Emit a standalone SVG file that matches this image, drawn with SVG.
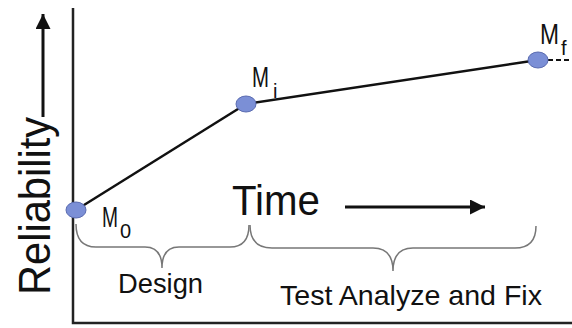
<svg xmlns="http://www.w3.org/2000/svg" width="572" height="328" viewBox="0 0 572 328">
<style>
.ax{stroke:#222;stroke-width:2.5;fill:none}
.ln{stroke:#111;stroke-width:2.5;fill:none}
.br{stroke:#777;stroke-width:1.5;fill:none}
.pt{fill:#7B8FD6;stroke:#5a6bb0;stroke-width:1}
.t{font-family:"Liberation Sans",Arial,sans-serif;fill:#111}
.sub{font-size:20px}
</style>
<defs>
<marker id="ah" viewBox="0 0 10 10" refX="10" refY="5" markerWidth="5" markerHeight="5" orient="auto" markerUnits="strokeWidth">
<path d="M0,0 L10,5 L0,10 Z" fill="#111"/>
</marker>
</defs>
<rect width="572" height="328" fill="#fff"/>
<g id="axes">
<path class="ax" d="M73,8 V323 H572"/>
<line x1="43" y1="117" x2="43" y2="14" stroke="#111" stroke-width="3" marker-end="url(#ah)"/>
<text class="t" font-size="44" textLength="178" lengthAdjust="spacingAndGlyphs" transform="translate(50,295) rotate(-90)">Reliability</text>
<text class="t" font-size="42" x="232" y="215" textLength="88" lengthAdjust="spacingAndGlyphs">Time</text>
<line x1="345" y1="207" x2="485" y2="207" stroke="#111" stroke-width="3" marker-end="url(#ah)"/>
</g>
<g id="connectors">
<line class="ln" x1="76" y1="210" x2="246" y2="104"/>
<line class="ln" x1="246" y1="104" x2="538" y2="60"/>
<line x1="548" y1="60" x2="572" y2="60" stroke="#111" stroke-width="2" stroke-dasharray="5 3"/>
</g>
<g id="M0">
<ellipse class="pt" cx="76" cy="210" rx="10" ry="8"/>
<text class="t" font-size="29" x="102" y="227"><tspan textLength="16" lengthAdjust="spacingAndGlyphs">M</tspan><tspan class="sub" x="120" y="238">0</tspan></text>
</g>
<g id="Mi">
<ellipse class="pt" cx="246" cy="104" rx="10" ry="8"/>
<text class="t" font-size="29" x="252" y="87"><tspan textLength="17" lengthAdjust="spacingAndGlyphs">M</tspan><tspan class="sub" x="273" y="98">i</tspan></text>
</g>
<g id="Mf">
<ellipse class="pt" cx="538" cy="60" rx="10" ry="8"/>
<text class="t" font-size="29" x="540" y="44"><tspan textLength="19" lengthAdjust="spacingAndGlyphs">M</tspan><tspan class="sub" x="561" y="55">f</tspan></text>
</g>
<g id="design">
<path class="br" d="M76,224 Q76,247 96,247 L145,247 Q162,247 162,268 Q162,247 179,247 L230,247 Q249,247 249,225"/>
<text class="t" font-size="27" x="118" y="293" textLength="85" lengthAdjust="spacingAndGlyphs">Design</text>
</g>
<g id="test">
<path class="br" d="M250,225 Q250,248 272,248 L373,248 Q393,248 393,271 Q393,248 413,248 L515,248 Q536,248 536,226"/>
<text class="t" font-size="28" x="280" y="305" textLength="262" lengthAdjust="spacingAndGlyphs">Test Analyze and Fix</text>
</g>
</svg>
